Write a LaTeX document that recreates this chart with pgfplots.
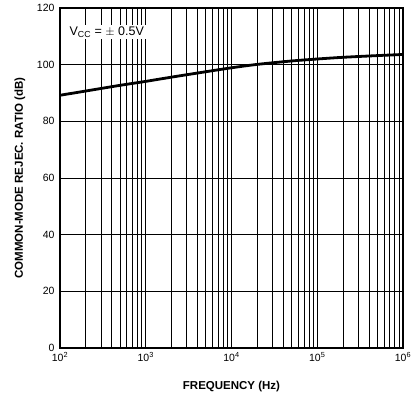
\documentclass[border=0pt]{standalone}
\usepackage{pgfplots}
\pgfplotsset{compat=1.18}
\usepackage{fontspec}
\setmainfont{Liberation Sans}
\usetikzlibrary{calc}

\begin{document}
\begin{tikzpicture}
\begin{axis}[
    scale only axis,
    width=343pt, height=340pt,
    xmode=log,
    xmin=1e2, xmax=1e6,
    ymin=0, ymax=120,
    xtick={1e2,1e3,1e4,1e5,1e6},
    xticklabels={10\textsuperscript{2},10\textsuperscript{3},10\textsuperscript{4},10\textsuperscript{5},10\textsuperscript{6}},
    ytick={0,20,40,60,80,100,120},
    yticklabels={0,20,40,60,80,100,120},
    grid=both,
    major grid style={black, line width=0.7pt},
    minor grid style={black, line width=0.7pt},
    axis line style={black, line width=1.2pt},
    major tick length=0pt, minor tick length=0pt,
    tick label style={font=\fontsize{10.5}{12}\selectfont},
    xticklabel style={yshift=-1pt},
    yticklabel style={xshift=-2pt},
    xlabel={\textbf{FREQUENCY (Hz)}},
    ylabel={\textbf{COMMON-MODE REJEC. RATIO (dB)}},
    label style={font=\fontsize{11.5}{13}\selectfont},
    xlabel style={at={(rel axis cs:0.5,0)}, anchor=center, yshift=-39pt},
    ylabel style={at={(rel axis cs:0,0.5)}, anchor=center, yshift=40pt},
    clip=false,
]
\addplot[black, line width=2.8pt, smooth] coordinates {
    (1e2,89.2) (2e2,90.7) (5e2,92.7) (1e3,94.1) (2e3,95.6) (5e3,97.5) (1e4,98.9)
    (2e4,100.1) (5e4,101.3) (1e5,102) (2e5,102.6) (5e5,103.2) (1e6,103.6)
};
\node[fill=white, inner sep=2pt, anchor=west, font=\fontsize{12.5}{14}\selectfont]
    at (axis cs:1.22e2,111.5) {V\textsubscript{CC} = $\pm$ 0.5V};
\coordinate (bl) at (rel axis cs:0,0);
\coordinate (tr) at (rel axis cs:1,1);
\end{axis}
\pgfresetboundingbox
\path ($(bl)+(-60pt,-54pt)$) rectangle ($(tr)+(9pt,8pt)$);
\end{tikzpicture}
\end{document}
